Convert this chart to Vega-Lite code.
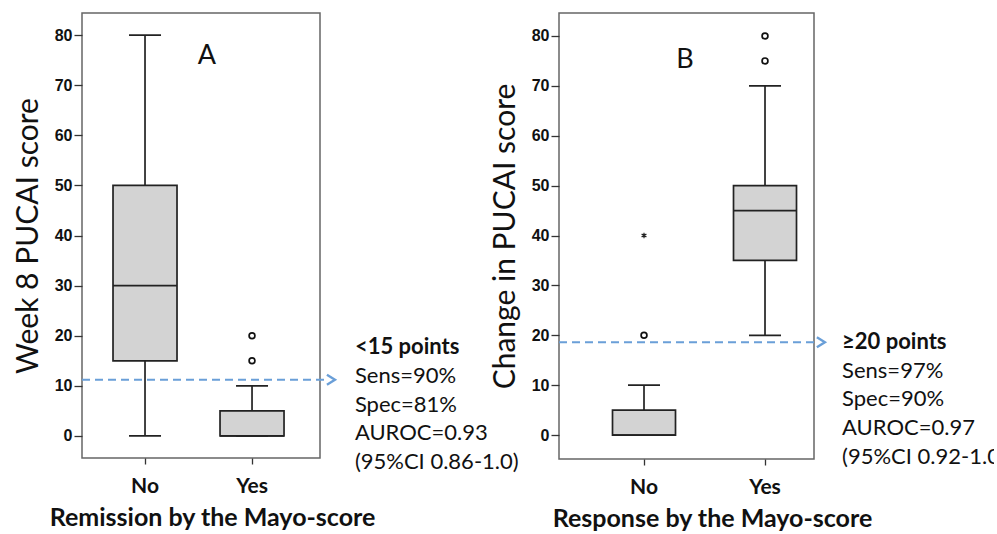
{
  "$schema": "https://vega.github.io/schema/vega-lite/v6.json",
  "autosize": {"type": "pad"},
  "padding": {"left": 12, "top": 12, "right": 5, "bottom": 0},
  "background": "white",
  "spacing": 0,
  "bounds": "flush",
  "datasets": {
    "boxes": [
      {"panel": "A", "group": "No", "lower": 0, "q1": 15, "median": 30, "q3": 50, "upper": 80},
      {"panel": "A", "group": "Yes", "lower": 0, "q1": 0, "median": 0, "q3": 5, "upper": 10},
      {"panel": "B", "group": "No", "lower": 0, "q1": 0, "median": 0, "q3": 5, "upper": 10},
      {"panel": "B", "group": "Yes", "lower": 20, "q1": 35, "median": 45, "q3": 50, "upper": 70}
    ],
    "outliers": [
      {"panel": "A", "group": "Yes", "value": 15, "kind": "o"},
      {"panel": "A", "group": "Yes", "value": 20, "kind": "o"},
      {"panel": "B", "group": "No", "value": 20, "kind": "o"},
      {"panel": "B", "group": "No", "value": 40, "kind": "*"},
      {"panel": "B", "group": "Yes", "value": 75, "kind": "o"},
      {"panel": "B", "group": "Yes", "value": 80, "kind": "o"}
    ],
    "cutoffs": [
      {"panel": "A", "cutoff": 11.2, "letter": "A"},
      {"panel": "B", "cutoff": 18.6, "letter": "B"}
    ],
    "notes": [
      {"panel": "A", "line": 1, "label": "<15 points"},
      {"panel": "A", "line": 2, "label": "Sens=90%"},
      {"panel": "A", "line": 3, "label": "Spec=81%"},
      {"panel": "A", "line": 4, "label": "AUROC=0.93"},
      {"panel": "A", "line": 5, "label": "(95%CI 0.86-1.0)"},
      {"panel": "B", "line": 1, "label": "≥20 points"},
      {"panel": "B", "line": 2, "label": "Sens=97%"},
      {"panel": "B", "line": 3, "label": "Spec=90%"},
      {"panel": "B", "line": 4, "label": "AUROC=0.97"},
      {"panel": "B", "line": 5, "label": "(95%CI 0.92-1.0)"}
    ]
  },
  "config": {
    "view": {"stroke": "#666", "strokeWidth": 1.5},
    "tick": {"opacity": 1},
    "axis": {
      "domain": false, "grid": false, "tickColor": "#333", "tickWidth": 1.3,
      "labelColor": "#111", "titleColor": "#111"
    },
    "axisY": {
      "tickSize": 8, "labelPadding": 2, "labelFont": "Liberation Sans", "labelFontWeight": "bold",
      "labelFontSize": 16, "titleFont": "Lato", "titleFontSize": 30, "titleFontWeight": "normal",
      "titlePadding": 11
    },
    "axisX": {
      "tickSize": 6, "labelPadding": 11, "labelFont": "Lato", "labelFontWeight": "bold",
      "labelFontSize": 21, "labelAngle": 0, "titleFont": "Lato", "titleFontSize": 25,
      "titleFontWeight": "bold", "titlePadding": 9, "bandPosition": 0.5
    }
  },
  "hconcat": [
    {
      "width": 238, "height": 445,
      "layer": [
        {
          "layer": [
            {
              "data": {"name": "boxes"},
              "transform": [{"filter": "datum.panel === 'A'"}],
              "encoding": {
                "x": {"field": "group", "type": "nominal", "title": "Remission by the Mayo-score",
                  "scale": {"domain": ["No", "Yes"], "paddingInner": 0.5, "paddingOuter": 0.362, "align": 0.468},
                  "axis": {"titleX": 130}},
                "y": {"field": "lower", "type": "quantitative", "title": "Week 8 PUCAI score",
                  "scale": {"domain": [-4.4, 84.4], "nice": false, "zero": false},
                  "axis": {"values": [0, 10, 20, 30, 40, 50, 60, 70, 80]}}
              },
              "layer": [
                {"mark": {"type": "rule", "color": "#222", "strokeWidth": 1.7}, "encoding": {"y2": {"field": "upper"}}},
                {"mark": {"type": "tick", "color": "#222", "size": 32, "thickness": 1.7, "opacity": 1}},
                {"mark": {"type": "tick", "color": "#222", "size": 32, "thickness": 1.7, "opacity": 1}, "encoding": {"y": {"field": "upper", "type": "quantitative", "title": "Week 8 PUCAI score"}}},
                {"mark": {"type": "bar", "size": 64, "fill": "#d3d3d3", "stroke": "#222", "strokeWidth": 1.7},
                  "encoding": {"y": {"field": "q1", "type": "quantitative", "title": "Week 8 PUCAI score"}, "y2": {"field": "q3"}}},
                {"mark": {"type": "tick", "color": "#222", "size": 64, "thickness": 1.8, "opacity": 1}, "encoding": {"y": {"field": "median", "type": "quantitative", "title": "Week 8 PUCAI score"}}}
              ]
            },
            {
              "data": {"name": "outliers"},
              "transform": [{"filter": "datum.panel === 'A' && datum.kind === 'o'"}],
              "mark": {"type": "point", "shape": "circle", "filled": false, "size": 34, "stroke": "#111", "strokeWidth": 1.7, "opacity": 1},
              "encoding": {
                "x": {"field": "group", "type": "nominal"},
                "y": {"field": "value", "type": "quantitative", "title": "Week 8 PUCAI score"}
              }
            }
          ]
        },
        {
          "data": {"name": "cutoffs"},
          "transform": [{"filter": "datum.panel === 'A'"}],
          "layer": [
            {"mark": {"type": "rule", "color": "#6a9fd8", "strokeWidth": 2, "strokeDash": [8, 5], "clip": false},
              "encoding": {
                "x": {"datum": 0, "type": "quantitative", "scale": {"domain": [0, 1], "nice": false, "zero": false}, "axis": null},
                "x2": {"datum": 1.034},
                "y": {"field": "cutoff", "type": "quantitative", "title": "Week 8 PUCAI score"}
              }},
            {"mark": {"type": "point", "shape": "M-0.8,-1L0.8,0L-0.8,1", "filled": false, "size": 100, "stroke": "#6a9fd8", "strokeWidth": 2.4, "opacity": 1, "clip": false},
              "encoding": {
                "x": {"datum": 1.046, "type": "quantitative"},
                "y": {"field": "cutoff", "type": "quantitative", "title": "Week 8 PUCAI score"}
              }},
            {"mark": {"type": "text", "font": "Lato", "fontSize": 27, "color": "#111", "align": "center", "baseline": "alphabetic"},
              "encoding": {
                "x": {"datum": 0.525, "type": "quantitative"},
                "y": {"datum": 74.3, "type": "quantitative"},
                "text": {"field": "letter"}
              }}
          ]
        }
      ],
      "resolve": {"scale": {"x": "independent"}}
    },
    {
      "width": 239, "height": 445,
      "view": {"stroke": null},
      "data": {"name": "notes"},
      "transform": [{"filter": "datum.panel === 'A'"}],
      "encoding": {
        "x": {"datum": 0.146, "type": "quantitative", "scale": {"domain": [0, 1], "nice": false, "zero": false}, "axis": null},
        "y": {"field": "line", "type": "quantitative", "scale": {"domain": [-10.861, 4.617], "reverse": true, "nice": false, "zero": false}, "axis": null},
        "text": {"field": "label"}
      },
      "layer": [
        {"transform": [{"filter": "datum.line === 1"}],
          "mark": {"type": "text", "align": "left", "baseline": "alphabetic", "font": "Lato", "fontSize": 22, "fontWeight": "bold", "color": "#111"}},
        {"transform": [{"filter": "datum.line > 1"}],
          "mark": {"type": "text", "align": "left", "baseline": "alphabetic", "font": "Lato", "fontSize": 22, "fontWeight": "normal", "color": "#111"}}
      ]
    },
    {
      "width": 255, "height": 446,
      "layer": [
        {
          "layer": [
            {
              "data": {"name": "boxes"},
              "transform": [{"filter": "datum.panel === 'B'"}],
              "encoding": {
                "x": {"field": "group", "type": "nominal", "title": "Response by the Mayo-score",
                  "scale": {"domain": ["No", "Yes"], "paddingInner": 0.5, "paddingOuter": 0.3037, "align": 0.745},
                  "axis": {"titleX": 153}},
                "y": {"field": "lower", "type": "quantitative", "title": "Change in PUCAI score",
                  "scale": {"domain": [-4.8, 84.6], "nice": false, "zero": false},
                  "axis": {"values": [0, 10, 20, 30, 40, 50, 60, 70, 80]}}
              },
              "layer": [
                {"mark": {"type": "rule", "color": "#222", "strokeWidth": 1.7}, "encoding": {"y2": {"field": "upper"}}},
                {"mark": {"type": "tick", "color": "#222", "size": 32, "thickness": 1.7, "opacity": 1}},
                {"mark": {"type": "tick", "color": "#222", "size": 32, "thickness": 1.7, "opacity": 1}, "encoding": {"y": {"field": "upper", "type": "quantitative", "title": "Change in PUCAI score"}}},
                {"mark": {"type": "bar", "size": 63, "fill": "#d3d3d3", "stroke": "#222", "strokeWidth": 1.7},
                  "encoding": {"y": {"field": "q1", "type": "quantitative", "title": "Change in PUCAI score"}, "y2": {"field": "q3"}}},
                {"mark": {"type": "tick", "color": "#222", "size": 63, "thickness": 1.8, "opacity": 1}, "encoding": {"y": {"field": "median", "type": "quantitative", "title": "Change in PUCAI score"}}}
              ]
            },
            {
              "data": {"name": "outliers"},
              "transform": [{"filter": "datum.panel === 'B' && datum.kind === 'o'"}],
              "mark": {"type": "point", "shape": "circle", "filled": false, "size": 34, "stroke": "#111", "strokeWidth": 1.7, "opacity": 1},
              "encoding": {
                "x": {"field": "group", "type": "nominal"},
                "y": {"field": "value", "type": "quantitative", "title": "Change in PUCAI score"}
              }
            },
            {
              "data": {"name": "outliers"},
              "transform": [{"filter": "datum.panel === 'B' && datum.kind === '*'"}],
              "mark": {"type": "point", "shape": "M0,-1L0,1M-0.87,-0.5L0.87,0.5M-0.87,0.5L0.87,-0.5", "filled": false, "size": 30, "stroke": "#222", "strokeWidth": 1.2, "opacity": 1},
              "encoding": {
                "x": {"field": "group", "type": "nominal"},
                "y": {"field": "value", "type": "quantitative", "title": "Change in PUCAI score"}
              }
            }
          ]
        },
        {
          "data": {"name": "cutoffs"},
          "transform": [{"filter": "datum.panel === 'B'"}],
          "layer": [
            {"mark": {"type": "rule", "color": "#6a9fd8", "strokeWidth": 2, "strokeDash": [8, 5], "clip": false},
              "encoding": {
                "x": {"datum": 0, "type": "quantitative", "scale": {"domain": [0, 1], "nice": false, "zero": false}, "axis": null},
                "x2": {"datum": 1.016},
                "y": {"field": "cutoff", "type": "quantitative", "title": "Change in PUCAI score"}
              }},
            {"mark": {"type": "point", "shape": "M-0.8,-1L0.8,0L-0.8,1", "filled": false, "size": 100, "stroke": "#6a9fd8", "strokeWidth": 2.4, "opacity": 1, "clip": false},
              "encoding": {
                "x": {"datum": 1.027, "type": "quantitative"},
                "y": {"field": "cutoff", "type": "quantitative", "title": "Change in PUCAI score"}
              }},
            {"mark": {"type": "text", "font": "Lato", "fontSize": 27, "color": "#111", "align": "center", "baseline": "alphabetic"},
              "encoding": {
                "x": {"datum": 0.494, "type": "quantitative"},
                "y": {"datum": 73.5, "type": "quantitative"},
                "text": {"field": "letter"}
              }}
          ]
        }
      ],
      "resolve": {"scale": {"x": "independent"}}
    },
    {
      "width": 180, "height": 470,
      "view": {"stroke": null},
      "data": {"name": "notes"},
      "transform": [{"filter": "datum.panel === 'B'"}],
      "encoding": {
        "x": {"datum": 0.156, "type": "quantitative", "scale": {"domain": [0, 1], "nice": false, "zero": false}, "axis": null},
        "y": {"field": "line", "type": "quantitative", "scale": {"domain": [-10.687, 5.661], "reverse": true, "nice": false, "zero": false}, "axis": null},
        "text": {"field": "label"}
      },
      "layer": [
        {"transform": [{"filter": "datum.line === 1"}],
          "mark": {"type": "text", "align": "left", "baseline": "alphabetic", "font": "Lato", "fontSize": 22, "fontWeight": "bold", "color": "#111", "clip": true}},
        {"transform": [{"filter": "datum.line > 1"}],
          "mark": {"type": "text", "align": "left", "baseline": "alphabetic", "font": "Lato", "fontSize": 22, "fontWeight": "normal", "color": "#111", "clip": true}}
      ]
    }
  ]
}
